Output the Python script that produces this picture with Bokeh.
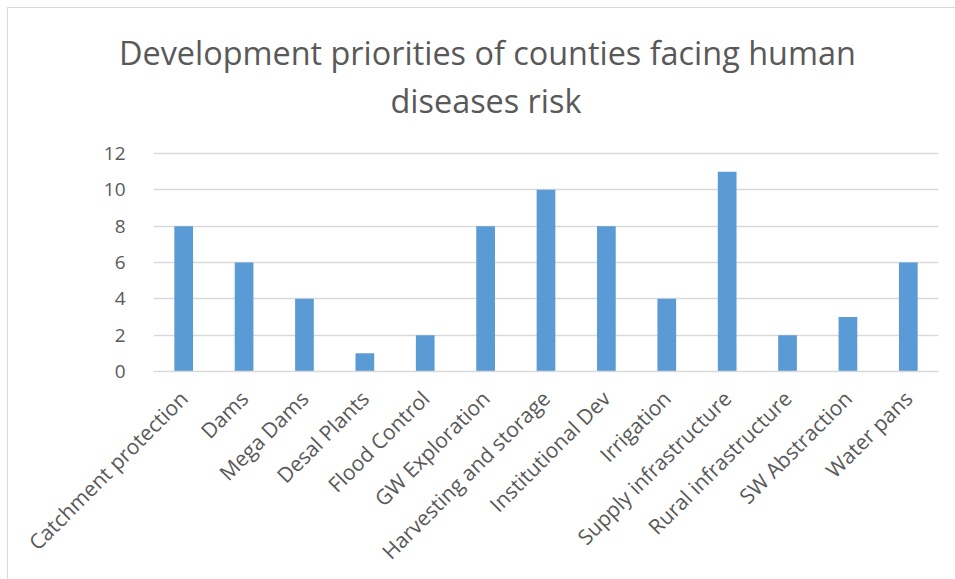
from math import pi

from bokeh.embed import file_html
from bokeh.models import Label, Range1d, Title
from bokeh.plotting import figure
from bokeh.resources import INLINE

# Chart data
categories = [
    "Catchment protection", "Dams", "Mega Dams", "Desal Plants", "Flood Control",
    "GW Exploration", "Harvesting and storage", "Institutional Dev", "Irrigation",
    "Supply infrastructure", "Rural infrastructure", "SW Abstraction", "Water pans",
]
counts = [8, 6, 4, 1, 2, 8, 10, 8, 4, 11, 2, 3, 6]
y_ticks = [0, 2, 4, 6, 8, 10, 12]
title_lines = ["Development priorities of counties facing human", "diseases risk"]

FONT = "Open Sans"
TEXT_GREY = "#595959"
LINE_GREY = "#d9d9d9"
BAR_BLUE = "#5b9bd5"
TITLE_SIZE = "32.4px"

# Pixel layout: the value axis runs 0..12 over 218 px; the frame is extended
# upwards (no ticks or grid there) so the second title line can sit inside it.
AXIS_PX = 218.0
Y_MAX = 12
PX_PER_UNIT = AXIS_PX / Y_MAX
TOP_BORDER = 69
EXTRA_PX = 145 - TOP_BORDER
y_end = Y_MAX + EXTRA_PX / PX_PER_UNIT

p = figure(
    x_range=categories,
    y_range=Range1d(0, y_end),
    width=948,
    height=572,
    output_backend="svg",
    toolbar_location=None,
    min_border_left=145,
    min_border_right=18,
    min_border_top=TOP_BORDER,
    min_border_bottom=209,
    outline_line_color=None,
)
p.margin = (7, 0, 0, 7)
p.styles = {"border-left": f"1px solid {LINE_GREY}", "border-top": f"1px solid {LINE_GREY}"}

p.vbar(x=categories, top=counts, width=0.31, color=BAR_BLUE, line_color=None)

# Title, centred on the whole chart rather than on the plot frame
p.add_layout(
    Title(
        text=title_lines[0],
        align="left",
        offset=-34.5,
        standoff=8,
        text_font=FONT,
        text_font_size=TITLE_SIZE,
        text_font_style="normal",
        text_color=TEXT_GREY,
    ),
    "above",
)
cat_px = (948 - 145 - 18) / len(categories)
p.add_layout(
    Label(
        x=332.5 / cat_px,
        y=272 / PX_PER_UNIT,
        text=title_lines[1],
        text_align="center",
        text_baseline="alphabetic",
        text_font=FONT,
        text_font_size=TITLE_SIZE,
        text_color=TEXT_GREY,
    )
)

# Axes
p.xaxis.major_label_orientation = pi / 4
p.xaxis.major_label_text_font = FONT
p.xaxis.major_label_text_font_size = "21px"
p.xaxis.major_label_text_color = TEXT_GREY
p.xaxis.axis_line_color = LINE_GREY
p.xaxis.axis_line_width = 1.5
p.xaxis.major_tick_line_color = None
p.xaxis.minor_tick_line_color = None
p.xaxis.major_label_standoff = 17

p.yaxis.ticker = y_ticks
p.yaxis.major_label_text_font = FONT
p.yaxis.major_label_text_font_size = "19px"
p.yaxis.major_label_text_color = TEXT_GREY
p.yaxis.axis_line_color = None
p.yaxis.major_tick_line_color = None
p.yaxis.minor_tick_line_color = None
p.yaxis.major_label_standoff = 22

p.xgrid.grid_line_color = None
p.ygrid.grid_line_color = LINE_GREY
p.ygrid.grid_line_width = 1.5

open("out.html", "w").write(file_html(p, INLINE))
